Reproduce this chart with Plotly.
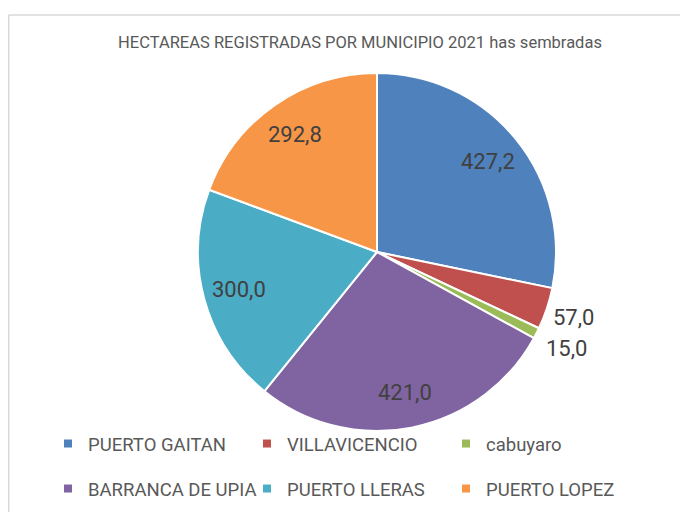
import math
import plotly.graph_objects as go

categories = ["PUERTO GAITAN", "VILLAVICENCIO", "cabuyaro",
              "BARRANCA DE UPIA", "PUERTO LLERAS", "PUERTO LOPEZ"]
values = [427.2, 57.0, 15.0, 421.0, 300.0, 292.8]
colors = ["#4F81BD", "#C0504D", "#9BBB59", "#8064A2", "#4BACC6", "#F79646"]
title_text = "HECTAREAS REGISTRADAS POR MUNICIPIO 2021 has sembradas"

# label placement style (fraction of radius from centre)
label_radius = [0.80, 1.16, 1.19, 0.80, 0.80, 0.80]

OFF = 8                     # page body margin in the browser
W, H = 688 - OFF, 512 - OFF
FONT = "Roboto"
CX, CY, R = 377 - OFF, 252 - OFF, 179  # pie centre / radius in px


def fx(px):
    return px / W


def fy(py):
    return 1 - py / H


fig = go.Figure()
fig.add_trace(go.Pie(
    labels=categories, values=values, sort=False, direction="clockwise",
    rotation=0, textinfo="none",
    marker=dict(colors=colors, line=dict(color="white", width=2)),
    showlegend=False, hoverinfo="label+value",
    domain=dict(x=[fx(CX - R), fx(CX + R)], y=[fy(CY + R), fy(CY - R)]),
))

# data labels at slice mid-angles, derived from the values
total = sum(values)
cum = 0.0
annotations = []
for v, rf in zip(values, label_radius):
    mid = (cum + v / 2) / total * 2 * math.pi
    cum += v
    px = CX + rf * R * math.sin(mid)
    py = CY - rf * R * math.cos(mid)
    annotations.append(dict(
        x=fx(px), y=fy(py), xref="paper", yref="paper",
        text=f"{v:.1f}".replace(".", ","), showarrow=False,
        xanchor="center", yanchor="middle",
        font=dict(family=FONT, size=22, color="#404040")))

# legend entries (two rows)
for i, (name, col) in enumerate(zip(categories, colors)):
    fig.add_trace(go.Scatter(
        x=[None], y=[None], mode="markers", name=name,
        marker=dict(symbol="square", size=8, color=col),
        legend="legend" if i < 3 else "legend2",
    ))

leg_common = dict(orientation="h", xanchor="left", yanchor="middle",
                  entrywidth=154, entrywidthmode="pixels",
                  font=dict(family=FONT, size=18.5, color="#595959"),
                  bgcolor="rgba(0,0,0,0)", itemclick=False)

border = dict(color="#D9D9D9", width=1.5)
fig.update_layout(
    width=W, height=H,
    margin=dict(l=0, r=0, t=0, b=0, autoexpand=False),
    paper_bgcolor="white", plot_bgcolor="white",
    separators=",.",
    title=dict(text=title_text, x=fx(360 - OFF), xanchor="center",
               y=fy(42 - OFF), yanchor="middle",
               font=dict(family=FONT, size=16.5, color="#595959")),
    xaxis=dict(visible=False), yaxis=dict(visible=False),
    legend=dict(x=fx(40), y=fy(436), **leg_common),
    legend2=dict(x=fx(40), y=fy(481), **leg_common),
    annotations=annotations,
    shapes=[
        dict(type="line", xref="paper", yref="paper",
             x0=fx(0.75), x1=fx(0.75), y0=0, y1=fy(15 - OFF), line=border),
        dict(type="line", xref="paper", yref="paper",
             x0=fx(0.75), x1=1, y0=fy(15 - OFF), y1=fy(15 - OFF),
             line=border),
    ],
)

fig.write_html("out.html")
